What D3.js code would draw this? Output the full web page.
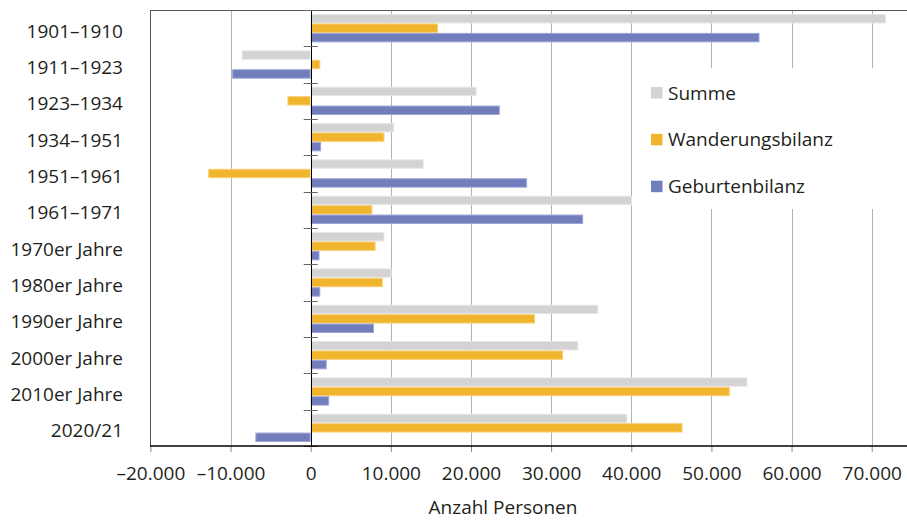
<!DOCTYPE html>
<html lang="de">
<head>
<meta charset="utf-8">
<script src="https://cdn.jsdelivr.net/npm/d3@7"></script>
<style>
  html, body { margin: 0; padding: 0; background: #fff; }
  svg { display: block; font-family: "Open Sans", "Noto Sans", sans-serif; }
</style>
</head>
<body>
<svg id="chart" width="907" height="520"></svg>
<script>
// Bevölkerungsentwicklung: Geburtenbilanz, Wanderungsbilanz und Summe je Zeitraum
const categories = ["1901–1910", "1911–1923", "1923–1934", "1934–1951", "1951–1961", "1961–1971",
  "1970er Jahre", "1980er Jahre", "1990er Jahre", "2000er Jahre", "2010er Jahre", "2020/21"];
const summe      = [71800, -8600, 20700, 10400, 14100, 40100, 9200, 10100, 35900, 33400, 54500, 39500];
const wanderung  = [15900,  1200, -2900,  9200, -12800, 7700, 8100,  9000, 28000, 31500, 52300, 46400];
const geburten   = [56000, -9800, 23600,  1300, 27000, 34000, 1100,  1200,  7900,  2000,  2300, -6900];
const seriesNames = ["Summe", "Wanderungsbilanz", "Geburtenbilanz"];
const xTicks = [-20000, -10000, 0, 10000, 20000, 30000, 40000, 50000, 60000, 70000];
const axisTitle = "Anzahl Personen";

const colors = { "Summe": "#d2d3d2", "Wanderungsbilanz": "#f1b52d", "Geburtenbilanz": "#727dbc" };
const edges  = { "Summe": "#e6e7e6", "Wanderungsbilanz": "#f7d17d", "Geburtenbilanz": "#9ea6d6" };

const seriesValues = { "Summe": summe, "Wanderungsbilanz": wanderung, "Geburtenbilanz": geburten };

const W = 907, H = 520;
const plot = { left: 150, top: 10, right: 907, bottom: 446 };

const de = d3.formatLocale({ decimal: ",", thousands: ".", grouping: [3], currency: ["", " €"], minus: "–" });
const fmt = de.format(",d");

const svg = d3.select("#chart");

const x = d3.scaleLinear().domain([-20000, 70000]).range([150.4, 871.7]);
const y = d3.scaleBand().domain(categories).range([plot.top, plot.bottom])
  .paddingInner(0.22).paddingOuter(0.11);
const sub = d3.scaleBand().domain(seriesNames).range([0, y.bandwidth()]);

// vertical gridlines
svg.append("g").selectAll("line")
  .data(xTicks.filter(t => t !== 0))
  .join("line")
  .attr("x1", d => Math.round(x(d)) + 0.5).attr("x2", d => Math.round(x(d)) + 0.5)
  .attr("y1", plot.top).attr("y2", plot.bottom)
  .attr("stroke", "#b3b3b3").attr("stroke-width", 1);

// bars
const rows = categories.map((c, i) => ({ cat: c, i }));
const groups = svg.append("g").selectAll("g")
  .data(rows).join("g")
  .attr("transform", d => `translate(0,${y(d.cat)})`);

groups.selectAll("rect")
  .data(d => seriesNames.map(s => ({ s, v: seriesValues[s][d.i] })))
  .join("rect")
  .attr("x", d => Math.min(x(0), x(d.v)) + 0.5)
  .attr("y", d => sub(d.s) + 0.5)
  .attr("width", d => Math.max(0, Math.abs(x(d.v) - x(0)) - 1))
  .attr("height", sub.bandwidth() - 1)
  .attr("fill", d => colors[d.s])
  .attr("stroke", d => edges[d.s])
  .attr("stroke-width", 1);

// legend with white background
const lg = svg.append("g");
lg.append("rect").attr("x", 639).attr("y", 68).attr("width", W - 639).attr("height", 141).attr("fill", "#fff");
const legendY = d3.scalePoint().domain(seriesNames).range([92.5, 186.2]);
const items = lg.selectAll("g.item").data(seriesNames).join("g").attr("class", "item")
  .attr("transform", d => `translate(0,${legendY(d)})`);
items.append("rect").attr("x", 651).attr("y", -5.5).attr("width", 11.5).attr("height", 11.5)
  .attr("fill", d => colors[d]);
items.append("text").attr("x", 668).attr("y", 7).attr("font-size", 19).attr("fill", "#231f20")
  .text(d => d);

// frame: left and top border
svg.append("line").attr("x1", plot.left + 0.5).attr("x2", plot.left + 0.5)
  .attr("y1", plot.top).attr("y2", plot.bottom).attr("stroke", "#555").attr("stroke-width", 1);
svg.append("line").attr("x1", plot.left).attr("x2", plot.right)
  .attr("y1", plot.top + 0.5).attr("y2", plot.top + 0.5).attr("stroke", "#555").attr("stroke-width", 1);

// zero line with category ticks
svg.append("line").attr("x1", Math.round(x(0)) + 0.5).attr("x2", Math.round(x(0)) + 0.5)
  .attr("y1", plot.top).attr("y2", plot.bottom).attr("stroke", "#000").attr("stroke-width", 1);
const boundaries = categories.map(c => y(c) - y.step() * y.paddingOuter()).concat([plot.bottom]);
svg.append("g").selectAll("line").data(boundaries).join("line")
  .attr("x1", x(0) - 7).attr("x2", x(0) + 7)
  .attr("y1", d => Math.round(d) + 0.5).attr("y2", d => Math.round(d) + 0.5)
  .attr("stroke", "#666").attr("stroke-width", 1);

// x axis
const xAxis = d3.axisBottom(x).tickValues(xTicks).tickFormat(fmt).tickSize(6).tickPadding(5);
const gx = svg.append("g").attr("transform", `translate(0,${plot.bottom})`).call(xAxis);
gx.select(".domain").remove();
gx.selectAll(".tick line").attr("stroke", "#8a8a8a");
gx.selectAll(".tick text").attr("font-size", 19).attr("font-family", "Open Sans").attr("fill", "#231f20")
  .attr("dy", null).attr("y", 34);
svg.append("line").attr("x1", plot.left).attr("x2", plot.right)
  .attr("y1", plot.bottom).attr("y2", plot.bottom).attr("stroke", "#000").attr("stroke-width", 1.6);

// y axis labels
const yAxis = d3.axisLeft(y).tickSize(0).tickPadding(0);
const gy = svg.append("g").attr("transform", "translate(123,0)").call(yAxis);
gy.select(".domain").remove();
gy.selectAll(".tick text").attr("font-size", 19).attr("font-family", "Open Sans").attr("fill", "#231f20")
  .attr("dy", null).attr("y", 9.5);

// axis title
svg.append("text").attr("x", 503).attr("y", 514).attr("text-anchor", "middle")
  .attr("font-size", 19).attr("fill", "#231f20").text(axisTitle);
</script>
</body>
</html>
